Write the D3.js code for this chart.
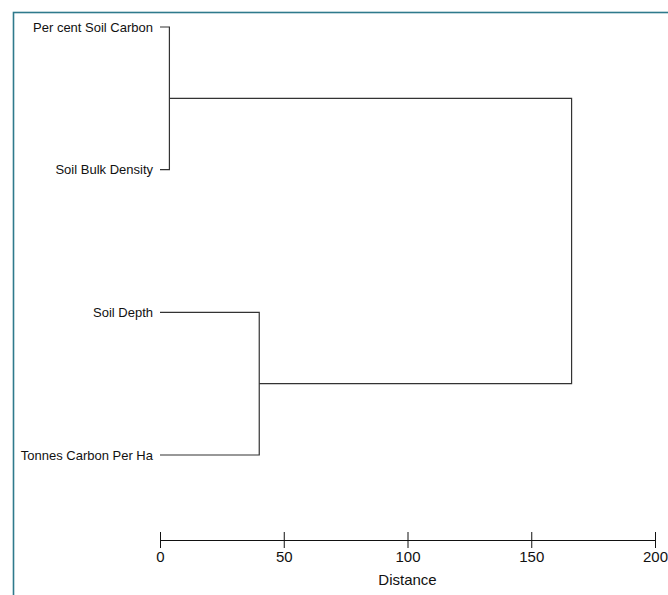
<!DOCTYPE html>
<html lang="en">
<head>
<meta charset="utf-8">
<title>Dendrogram - soil variables</title>
<script src="https://d3js.org/d3.v7.min.js"></script>
<style>
  body { margin: 0; background: #fff; }
  svg text { font-family: "Liberation Sans", Arial, sans-serif; fill: #111; }
</style>
</head>
<body>
<div id="chart"></div>
<script>
// leaves, top to bottom
var labels = ["Per cent Soil Carbon", "Soil Bulk Density", "Soil Depth", "Tonnes Carbon Per Ha"];
// merges, hclust style: negative = leaf index (1-based), positive = earlier merge
var mergeA = [-1, -3, 1];
var mergeB = [-2, -4, 2];
var heights = [3.8, 40.1, 166.3];
var ticks = [0, 50, 100, 150, 200];

var width = 668, height = 595;

var svg = d3.select("#chart").append("svg")
  .attr("width", width).attr("height", height);

// frame
svg.append("rect")
  .attr("x", 13.5).attr("y", 12.5)
  .attr("width", width + 10).attr("height", height + 10)
  .attr("fill", "none").attr("stroke", "#2f7a8c").attr("stroke-width", 1.6);

var x = d3.scaleLinear().domain([0, 200]).range([160, 655]);
var y = d3.scalePoint().domain(labels).range([27, 455]);

var line = "#333";
var g = svg.append("g");

// position of a node: leaf or merge
function node(k) {
  if (k < 0) return { x: x(0), y: y(labels[-k - 1]) };
  return nodes[k - 1];
}
var nodes = [];
for (var i = 0; i < heights.length; i++) {
  var a = node(mergeA[i]), b = node(mergeB[i]);
  var hx = x(heights[i]);
  g.append("path")
    .attr("d", "M" + a.x + "," + a.y + "H" + hx + "V" + b.y + "H" + b.x)
    .attr("fill", "none").attr("stroke", line).attr("stroke-width", 1.2);
  nodes.push({ x: hx, y: (a.y + b.y) / 2 });
}

// leaf labels
g.selectAll(".leaf").data(labels).enter().append("text")
  .attr("class", "leaf")
  .attr("x", x(0) - 7)
  .attr("y", function(d) { return y(d); })
  .attr("dy", "0.35em")
  .attr("text-anchor", "end")
  .style("font-size", "13px")
  .text(function(d) { return d; });

// axis
var axis = svg.append("g")
  .attr("transform", "translate(0,540)")
  .call(d3.axisBottom(x).tickValues(ticks).tickSize(8).tickPadding(3).tickSizeOuter(0));
axis.select(".domain").attr("stroke", "#111");
axis.selectAll(".tick line").attr("y1", -8).attr("y2", 8).attr("stroke", "#111");
axis.selectAll(".tick text")
  .style("font-size", "15px")
  .style("font-family", "'Liberation Sans', Arial, sans-serif")
  .attr("fill", "#111");

svg.append("text")
  .attr("x", x(100)).attr("y", 585)
  .attr("text-anchor", "middle")
  .style("font-size", "15px")
  .text("Distance");
</script>
</body>
</html>
